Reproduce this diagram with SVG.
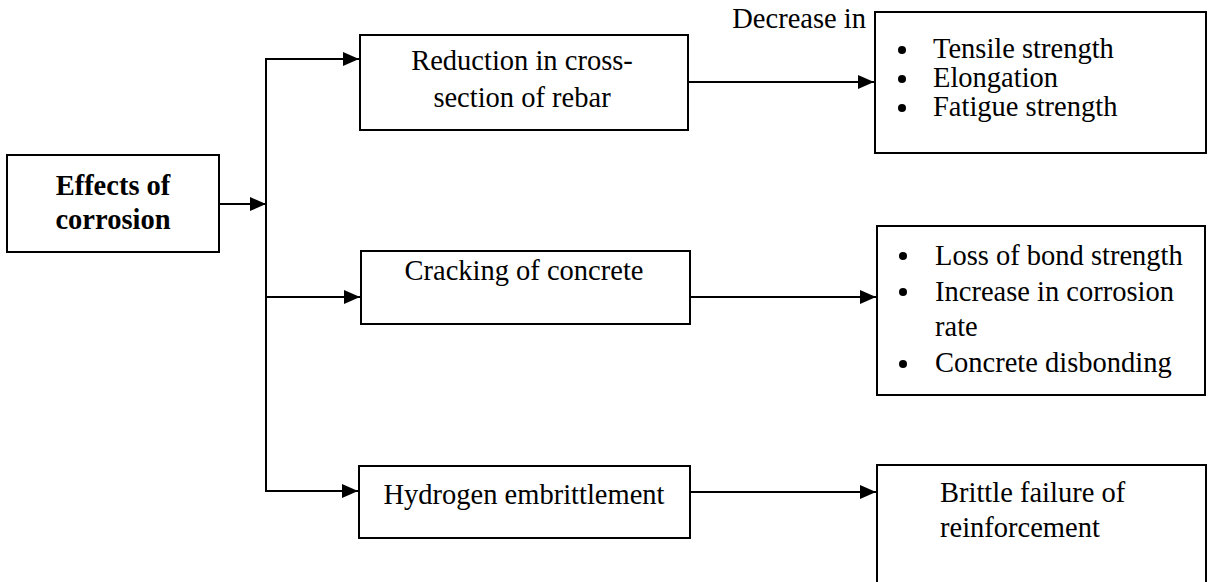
<svg xmlns="http://www.w3.org/2000/svg" width="1208" height="582" viewBox="0 0 1208 582">
<defs>
<marker id="ah" markerUnits="userSpaceOnUse" markerWidth="16" markerHeight="14" refX="16" refY="7" orient="auto">
<path d="M0,0 L16,7 L0,14 z" fill="#000"/>
</marker>
<style>
.box{fill:#fff;stroke:#000;stroke-width:2}
.t{font-family:"Liberation Serif","Times New Roman",serif;font-size:28.5px;fill:#000}
.b{font-weight:bold}
.c{stroke:#000;stroke-width:2;fill:none}
.a{marker-end:url(#ah)}
</style>
</defs>
<rect width="1208" height="582" fill="#fff"/>
<g id="connectors">
<line class="c a" x1="219" y1="204" x2="266" y2="204"/>
<line class="c" x1="266" y1="59" x2="266" y2="492"/>
<line class="c a" x1="265" y1="59" x2="359" y2="59"/>
<line class="c a" x1="265" y1="297" x2="360" y2="297"/>
<line class="c a" x1="265" y1="491" x2="358" y2="491"/>
<line class="c a" x1="688" y1="82" x2="874" y2="82"/>
<line class="c a" x1="690" y1="297" x2="876" y2="297"/>
<line class="c a" x1="690" y1="492" x2="876" y2="492"/>
</g>
<g id="effects">
<rect class="box" x="7" y="155" width="212" height="97"/>
<text class="t b" x="113" y="195" text-anchor="middle">Effects of</text>
<text class="t b" x="113" y="229" text-anchor="middle">corrosion</text>
</g>
<g id="reduction">
<rect class="box" x="360" y="35" width="328" height="95"/>
<text class="t" x="522" y="70" text-anchor="middle">Reduction in cross-</text>
<text class="t" x="522" y="107" text-anchor="middle">section of rebar</text>
</g>
<g id="cracking">
<rect class="box" x="361" y="251" width="329" height="73"/>
<text class="t" x="524" y="280" text-anchor="middle">Cracking of concrete</text>
</g>
<g id="hydrogen">
<rect class="box" x="359" y="466" width="331" height="72"/>
<text class="t" x="524" y="504" text-anchor="middle">Hydrogen embrittlement</text>
</g>
<g id="decrease-label">
<text class="t" x="866" y="28" text-anchor="end">Decrease in</text>
</g>
<g id="strength-effects">
<rect class="box" x="875" y="12" width="331" height="141"/>
<circle cx="902" cy="50" r="4"/>
<circle cx="902" cy="79" r="4"/>
<circle cx="902" cy="108" r="4"/>
<text class="t" x="933" y="58">Tensile strength</text>
<text class="t" x="933" y="87">Elongation</text>
<text class="t" x="933" y="116">Fatigue strength</text>
</g>
<g id="cracking-effects">
<rect class="box" x="877" y="226" width="328" height="169"/>
<circle cx="903" cy="256" r="4"/>
<circle cx="903" cy="292" r="4"/>
<circle cx="903" cy="364" r="4"/>
<text class="t" x="935" y="265">Loss of bond strength</text>
<text class="t" x="935" y="301">Increase in corrosion</text>
<text class="t" x="935" y="336">rate</text>
<text class="t" x="935" y="372">Concrete disbonding</text>
</g>
<g id="brittle">
<rect class="box" x="877" y="465" width="329" height="121"/>
<text class="t" x="940" y="502">Brittle failure of</text>
<text class="t" x="940" y="537">reinforcement</text>
</g>
</svg>
